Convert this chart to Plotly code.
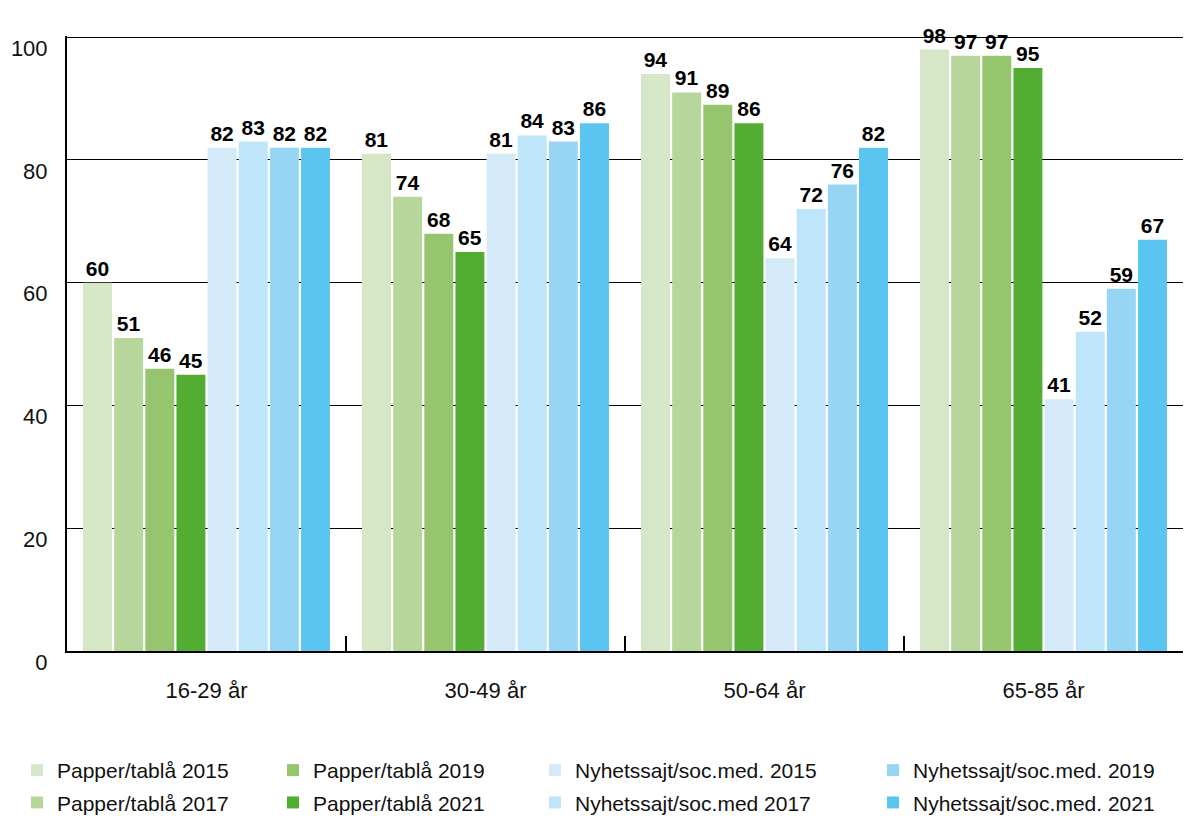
import plotly.graph_objects as go

categories = ["16-29 år", "30-49 år", "50-64 år", "65-85 år"]
series_names = [
    "Papper/tablå 2015", "Papper/tablå 2017", "Papper/tablå 2019", "Papper/tablå 2021",
    "Nyhetssajt/soc.med. 2015", "Nyhetssajt/soc.med 2017", "Nyhetssajt/soc.med. 2019", "Nyhetssajt/soc.med. 2021",
]
papper_2015 = [60, 81, 94, 98]
papper_2017 = [51, 74, 91, 97]
papper_2019 = [46, 68, 89, 97]
papper_2021 = [45, 65, 86, 95]
nyhet_2015 = [82, 81, 64, 41]
nyhet_2017 = [83, 84, 72, 52]
nyhet_2019 = [82, 83, 76, 59]
nyhet_2021 = [82, 86, 82, 67]
series_values = [papper_2015, papper_2017, papper_2019, papper_2021,
                 nyhet_2015, nyhet_2017, nyhet_2019, nyhet_2021]
y_ticks = [0, 20, 40, 60, 80, 100]
colors = ["#d6e7c8", "#b7d69b", "#97c56f", "#53ad33",
          "#d4eaf9", "#bee5f9", "#97d5f5", "#5bc5f1"]
legend_ids = ["legend", "legend", "legend2", "legend2",
              "legend3", "legend3", "legend4", "legend4"]

FONT = "Liberation Sans, Arial, Helvetica, sans-serif"
W, H = 1187, 808

fig = go.Figure()
for i, (name, vals) in enumerate(zip(series_names, series_values)):
    fig.add_trace(go.Bar(
        x=categories, y=vals, name=name,
        marker=dict(color=colors[i], line=dict(width=0)),
        text=[str(v) for v in vals], textposition="outside",
        textfont=dict(family=FONT, size=21, color="black", weight="bold"),
        cliponaxis=False, constraintext="none",
        legend=legend_ids[i], legendgroup=name,
    ))

leg_common = dict(xref="container", yref="container", xanchor="left", yanchor="top",
                  orientation="v", bgcolor="rgba(0,0,0,0)", tracegroupgap=2,
                  font=dict(family=FONT, size=21, color="#111"))
lx = [9, 265, 527, 865]
ly = 1 - 742 / H

fig.update_layout(
    width=W, height=H,
    paper_bgcolor="white", plot_bgcolor="white",
    margin=dict(l=59, r=12, t=28, b=165, autoexpand=False),
    barmode="group", bargap=0.107, bargroupgap=0.07,
    font=dict(family=FONT, size=21, color="#111"),
    showlegend=True,
    legend=dict(x=lx[0] / W, y=ly, **leg_common),
    legend2=dict(x=lx[1] / W, y=ly, **leg_common),
    legend3=dict(x=lx[2] / W, y=ly, **leg_common),
    legend4=dict(x=lx[3] / W, y=ly, **leg_common),
    xaxis=dict(
        showline=True, linecolor="black", linewidth=2,
        ticks="inside", tickson="boundaries", ticklen=15, tickwidth=2, tickcolor="black",
        showgrid=False, ticklabelstandoff=19, tickangle=0,
        tickfont=dict(family=FONT, size=22, color="#111"),
    ),
    yaxis=dict(
        range=[0, 100.2], tickvals=y_ticks,
        showline=True, linecolor="black", linewidth=2,
        showgrid=True, gridcolor="black", gridwidth=1,
        zeroline=False, ticks="", ticklabelstandoff=13, ticklabelshift=11,
        tickfont=dict(family=FONT, size=22, color="#111"),
    ),
)

fig.write_html("out.html")
